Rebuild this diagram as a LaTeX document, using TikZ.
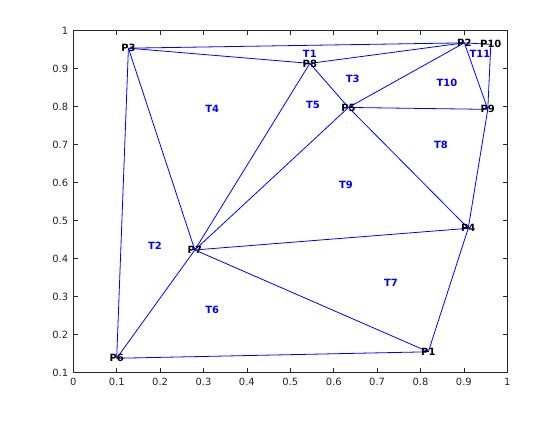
\documentclass[tikz,border=0pt]{standalone}
\usepackage{fontspec}
\setmainfont{DejaVu Sans}
\definecolor{axgray}{RGB}{38,38,38}
\tikzset{
  edge/.style={draw={rgb,255:red,0;green,0;blue,255}, line width=0.8bp},
  plabel/.style={font=\fontsize{10}{10}\selectfont\bfseries, text=black, inner sep=0pt},
  tlabel/.style={font=\fontsize{10}{10}\selectfont\bfseries, text={rgb,255:red,0;green,0;blue,255}, inner sep=0pt},
  ticklab/.style={font=\fontsize{10}{10}\selectfont, text=axgray, inner sep=0pt},
  axis/.style={draw=axgray, line width=0.7bp}
}
\begin{document}
\begin{tikzpicture}[x=434bp,y=380bp]
\useasboundingbox[fill=white] (-0.1689,-0.0245) rectangle (1.1214,1.0808);
% vertices
\coordinate (p1) at (0.818,0.155);
\coordinate (p2) at (0.901,0.968);
\coordinate (p3) at (0.127,0.954);
\coordinate (p4) at (0.910,0.480);
\coordinate (p5) at (0.634,0.798);
\coordinate (p6) at (0.100,0.138);
\coordinate (p7) at (0.280,0.423);
\coordinate (p8) at (0.545,0.914);
\coordinate (p9) at (0.955,0.793);
\coordinate (p10) at (0.962,0.964);
% axes box and ticks
\draw[axis] (0,0.1) rectangle (1,1);
\foreach \v in {0.1,0.2,...,0.91} {
  \draw[axis] (\v,0.1) -- ++(0,4.3bp);
  \draw[axis] (\v,1) -- ++(0,-4.3bp);
}
\foreach \v/\t in {0/0,0.1/0.1,0.2/0.2,0.3/0.3,0.4/0.4,0.5/0.5,0.6/0.6,0.7/0.7,0.8/0.8,0.9/0.9,1/1} {
  \node[ticklab, anchor=north] (xt\t) at ([yshift=-5bp]\v,0.1) {\t};
}
\foreach \v in {0.2,0.3,...,0.91} {
  \draw[axis] (0,\v) -- ++(4.3bp,0);
  \draw[axis] (1,\v) -- ++(-4.3bp,0);
}
\foreach \v/\t in {0.1/0.1,0.2/0.2,0.3/0.3,0.4/0.4,0.5/0.5,0.6/0.6,0.7/0.7,0.8/0.8,0.9/0.9,1/1} {
  \node[ticklab, anchor=east] (yt\t) at ([xshift=-5bp]0,\v) {\t};
}
% edges
\draw[edge] (p3) -- (p2);
\draw[edge] (p3) -- (p8);
\draw[edge] (p8) -- (p2);
\draw[edge] (p3) -- (p6);
\draw[edge] (p3) -- (p7);
\draw[edge] (p7) -- (p8);
\draw[edge] (p7) -- (p5);
\draw[edge] (p8) -- (p5);
\draw[edge] (p5) -- (p2);
\draw[edge] (p2) -- (p9);
\draw[edge] (p2) -- (p10);
\draw[edge] (p10) -- (p9);
\draw[edge] (p5) -- (p9);
\draw[edge] (p5) -- (p4);
\draw[edge] (p9) -- (p4);
\draw[edge] (p7) -- (p4);
\draw[edge] (p7) -- (p1);
\draw[edge] (p4) -- (p1);
\draw[edge] (p6) -- (p1);
\draw[edge] (p6) -- (p7);
% point labels
\node[plabel] (l1) at (p1) {P1};
\node[plabel] (l2) at (p2) {P2};
\node[plabel] (l3) at (p3) {P3};
\node[plabel] (l4) at (p4) {P4};
\node[plabel] (l5) at (p5) {P5};
\node[plabel] (l6) at (p6) {P6};
\node[plabel] (l7) at (p7) {P7};
\node[plabel] (l8) at (p8) {P8};
\node[plabel] (l9) at (p9) {P9};
\node[plabel] (l10) at (p10) {P10};
% triangle labels
\node[tlabel] (t1) at (0.545,0.940) {T1};
\node[tlabel] (t2) at (0.188,0.433) {T2};
\node[tlabel] (t3) at (0.644,0.873) {T3};
\node[tlabel] (t4) at (0.320,0.794) {T4};
\node[tlabel] (t5) at (0.552,0.804) {T5};
\node[tlabel] (t6) at (0.320,0.265) {T6};
\node[tlabel] (t7) at (0.732,0.336) {T7};
\node[tlabel] (t8) at (0.847,0.699) {T8};
\node[tlabel] (t9) at (0.628,0.594) {T9};
\node[tlabel] (t10) at (0.861,0.862) {T10};
\node[tlabel] (t11) at (0.937,0.940) {T11};
\end{tikzpicture}
\end{document}
